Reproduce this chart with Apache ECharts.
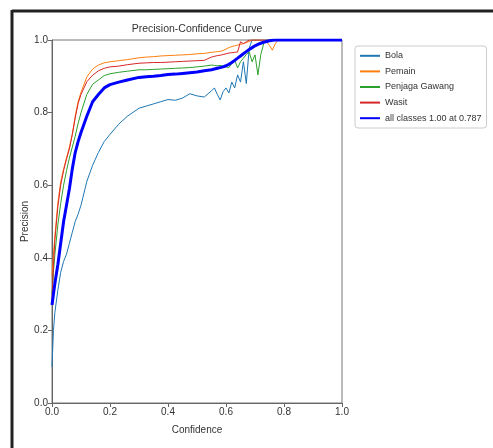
<!DOCTYPE html>
<html>
<head>
<meta charset="utf-8">
<script src="https://cdn.jsdelivr.net/npm/echarts@6/dist/echarts.min.js"></script>
<style>
  html, body { margin: 0; padding: 0; background: #fff; }
  #chart { width: 493px; height: 448px; }
</style>
</head>
<body>
<div id="chart"></div>
<script>
// confidence grid shared by all curves
var conf = [0, 0.005, 0.01, 0.02, 0.03, 0.04, 0.05, 0.06, 0.07, 0.08,
  0.09, 0.10, 0.12, 0.14, 0.16, 0.18, 0.20, 0.23, 0.26, 0.30,
  0.325, 0.35, 0.375, 0.40, 0.425, 0.45, 0.475, 0.50, 0.525, 0.55,
  0.56, 0.57, 0.58, 0.59, 0.60, 0.61, 0.62, 0.63, 0.64, 0.65,
  0.66, 0.67, 0.68, 0.69, 0.70, 0.71, 0.72, 0.73, 0.74, 0.75,
  0.76, 0.77, 0.78, 0.79, 0.80, 1.0]

var bola = [0.10, 0.20, 0.25, 0.31, 0.36, 0.39, 0.41, 0.44, 0.47, 0.50,
  0.52, 0.545, 0.61, 0.655, 0.69, 0.72, 0.74, 0.768, 0.79, 0.812,
  0.818, 0.824, 0.83, 0.836, 0.834, 0.84, 0.852, 0.846, 0.843, 0.86,
  0.868, 0.85, 0.835, 0.858, 0.868, 0.854, 0.884, 0.868, 0.904, 0.884,
  0.94, 0.88, 0.978, 1, 1, 1, 1, 1, 1, 1,
  1, 1, 1, 1, 1, 1]

var pemain = [0.35, 0.41, 0.46, 0.55, 0.61, 0.645, 0.675, 0.705, 0.74, 0.79,
  0.83, 0.856, 0.898, 0.92, 0.931, 0.937, 0.94, 0.943, 0.946, 0.951,
  0.953, 0.954, 0.956, 0.957, 0.958, 0.959, 0.96, 0.962, 0.963, 0.966,
  0.967, 0.968, 0.969, 0.971, 0.975, 0.979, 0.982, 0.984, 0.986, 0.988,
  0.99, 0.993, 0.996, 1, 1, 1, 1, 1, 0.995, 0.985,
  0.972, 0.99, 1, 1, 1, 1]

var penjaga = [0.30, 0.36, 0.41, 0.49, 0.55, 0.60, 0.64, 0.675, 0.705, 0.735,
  0.77, 0.80, 0.85, 0.878, 0.89, 0.902, 0.907, 0.911, 0.914, 0.918,
  0.918, 0.919, 0.92, 0.921, 0.922, 0.923, 0.924, 0.926, 0.928, 0.931,
  0.93, 0.929, 0.93, 0.928, 0.926, 0.924, 0.935, 0.945, 0.923, 0.94,
  0.95, 0.96, 0.967, 0.94, 0.959, 0.904, 0.96, 0.99, 1, 1,
  1, 1, 1, 1, 1, 1]

var wasit = [0.28, 0.38, 0.45, 0.54, 0.60, 0.64, 0.672, 0.70, 0.74, 0.785,
  0.825, 0.85, 0.885, 0.903, 0.915, 0.922, 0.926, 0.928, 0.932, 0.936,
  0.937, 0.938, 0.938, 0.939, 0.94, 0.941, 0.942, 0.943, 0.944, 0.953,
  0.955, 0.957, 0.958, 0.96, 0.962, 0.964, 0.965, 0.966, 0.967, 0.995,
  0.99, 0.995, 1, 1, 1, 1, 1, 1, 1, 1,
  1, 1, 1, 1, 1, 1]

var allClasses = [0.27, 0.30, 0.33, 0.38, 0.44, 0.50, 0.545, 0.59, 0.645, 0.69,
  0.72, 0.745, 0.79, 0.83, 0.85, 0.868, 0.877, 0.884, 0.89, 0.897,
  0.899, 0.90, 0.902, 0.905, 0.906, 0.908, 0.91, 0.912, 0.915, 0.918,
  0.92, 0.922, 0.924, 0.926, 0.929, 0.933, 0.938, 0.944, 0.95, 0.956,
  0.962, 0.968, 0.974, 0.979, 0.984, 0.988, 0.991, 0.994, 0.996, 0.998,
  0.999, 1, 1, 1, 1, 1]

var font = "'Liberation Sans', Arial, sans-serif"

function pairs(ys) {
  return conf.map(function (c, i) { return [c, ys[i]] })
}

function curve(name, ys, color, width) {
  return {
    name: name,
    type: 'line',
    data: pairs(ys),
    symbol: 'none',
    clip: true,
    lineStyle: { color: color, width: width },
    itemStyle: { color: color }
  }
}

var myChart = echarts.init(document.getElementById('chart'))
var axisCommon = {
  type: 'value',
  min: 0,
  max: 1,
  interval: 0.2,
  nameLocation: 'middle',
  nameMoveOverlap: false,
  nameTextStyle: { color: '#333', fontSize: 10, fontFamily: font },
  axisLine: { show: true, lineStyle: { color: '#666', width: 1 } },
  axisTick: { show: true, length: 4, lineStyle: { color: '#666' } },
  axisLabel: {
    color: '#333', fontSize: 10, fontFamily: font, margin: 4,
    formatter: function (v) { return v.toFixed(1) }
  },
  splitLine: { show: false }
}

var option = {
  backgroundColor: '#fff',
  animation: false,
  grid: {
    left: 52, top: 40, width: 290, height: 363,
    show: true, borderColor: '#777', borderWidth: 1
  },
  legend: {
    orient: 'vertical',
    left: 355,
    top: 46,
    padding: [5, 5, 5, 4],
    itemWidth: 20,
    itemHeight: 12,
    itemGap: 6,
    borderColor: '#ccc',
    borderWidth: 1,
    borderRadius: 3,
    backgroundColor: '#fff',
    itemStyle: { opacity: 0 },
    textStyle: { color: '#333', fontSize: 9, fontFamily: font },
    data: ['Bola', 'Pemain', 'Penjaga Gawang', 'Wasit', 'all classes 1.00 at 0.787']
  },
  xAxis: Object.assign({}, axisCommon, { name: 'Confidence', nameGap: 22 }),
  yAxis: Object.assign({}, axisCommon, { name: 'Precision', nameGap: 22 }),
  graphic: [
    {
      type: 'text', x: 197, y: 24, silent: true,
      style: { text: 'Precision-Confidence Curve', fill: '#333', font: '10.5px ' + font, textAlign: 'center' }
    },
    { type: 'line', shape: { x1: 12, y1: 11, x2: 493, y2: 11 }, style: { stroke: '#222', lineWidth: 3 } },
    { type: 'line', shape: { x1: 12, y1: 10, x2: 12, y2: 448 }, style: { stroke: '#222', lineWidth: 3 } }
  ],
  series: [
    curve('Bola', bola, '#1f77b4', 1),
    curve('Pemain', pemain, '#ff7f0e', 1),
    curve('Penjaga Gawang', penjaga, '#2ca02c', 1),
    curve('Wasit', wasit, '#d62728', 1),
    curve('all classes 1.00 at 0.787', allClasses, '#0000ff', 3)
  ]
}
myChart.setOption(option)
</script>
</body>
</html>
